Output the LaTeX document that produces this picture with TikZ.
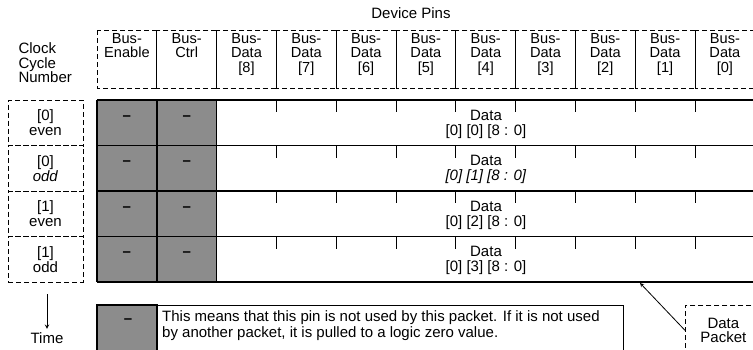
\documentclass[tikz,border=0pt]{standalone}
\usepackage{fontspec}
\setmainfont{Liberation Sans}

\begin{document}
\begin{tikzpicture}
  [x=1pt,y=-1pt,
   font=\fontsize{15}{14.6}\selectfont,
   pinbox/.style={draw,dash pattern=on 5pt off 3pt,line width=0.7pt},
   pinlbl/.style={anchor=north,align=center,inner sep=0.5pt,font=\fontsize{14.6}{14.2}\selectfont},
   cyclebox/.style={pinbox,minimum width=75pt,minimum height=45.5pt,align=center,inner sep=0pt,
     font=\fontsize{15}{15}\selectfont},
   unused/.style={fill=black!45},
   rowline/.style={line width=1.6pt},
   tick/.style={line width=1pt},
   packet/.style={align=center,inner sep=0pt,font=\fontsize{15}{15}\selectfont}]
  \useasboundingbox (0,0) rectangle (753,349);
  % headers
  \node at (411,13) (pinshdr) {Device Pins};
  \node at (15,63) (cyclehdr) [anchor=west,align=left] {Clock\\Cycle\\Number};
  \foreach \i in {0,...,10}
    \draw [pinbox] (97+\i*59.8,30) rectangle +(59.8,58);
  \node at (126.9,33) (pinen) [pinlbl] {Bus-\\Enable};
  \node at (186.7,33) (pinctl) [pinlbl] {Bus-\\Ctrl};
  \foreach \b in {8,...,0}
    \node at (246.5+59.8*8-59.8*\b,33) (pin\b) [pinlbl] {Bus-\\Data\\{[\b]}};
  % clock cycles
  \node at (45.5,122.75) (cyc0e) [cyclebox] {[0]\\even};
  \node at (45.5,168.25) (cyc0o) [cyclebox] {[0]\\\textit{odd}};
  \node at (45.5,213.75) (cyc1e) [cyclebox] {[1]\\even};
  \node at (45.5,259.25) (cyc1o) [cyclebox] {[1]\\odd};
  % packet grid
  \fill [unused] (97,100) rectangle (216.6,282);
  \foreach \y in {100,145.5,191,236.5,282}
    \draw [rowline] (97,\y) -- (756,\y);
  \foreach \x in {97,156.8,216.6}
    \draw [rowline] (\x,100) -- (\x,282);
  \foreach \y in {100,145.5,191,236.5}
    \foreach \k in {3,...,10}
      \draw [tick] (97+\k*59.8,\y) -- ++(0,12);
  \foreach \r/\y in {0/118,1/163.5,2/209,3/254.5}
    \foreach \c/\x in {en/126.9,ctl/186.7}
      \node at (\x,\y) (nc\r\c) [inner sep=0pt] {\textbf{--}};
  \node at (486,124) (pkt0) [packet] {Data\\{[0] [0] [8 : 0]}};
  \node at (486,169.5) (pkt1) [packet] {Data\\\textit{[0] [1] [8 : 0]}};
  \node at (486,215) (pkt2) [packet] {Data\\{[0] [2] [8 : 0]}};
  \node at (486,260.5) (pkt3) [packet] {Data\\{[0] [3] [8 : 0]}};
  % key
  \fill [unused] (97,305) rectangle (157,354);
  \draw [rowline] (97,354) -- (97,305) -- (157,305) -- (157,354);
  \draw [line width=1pt] (157,305) -- (623,305) -- (623,354);
  \node at (128,321) (keydash) [inner sep=0pt] {\textbf{--}};
  \node at (161,309) (note) [anchor=north west,align=left,inner sep=1pt,
    font=\fontsize{15}{16.5}\selectfont]
    {This means that this pin is not used by this packet. If it is not used\\
     by another packet, it is pulled to a logic zero value.};
  \node at (685,305) (datapkt) [pinbox,anchor=north west,align=center,
    minimum width=76pt,minimum height=50pt,inner sep=0pt] {Data\\Packet};
  \coordinate (gridhit) at (640,283);
  \draw [-stealth,line width=0.8pt] (datapkt.west) -- (gridhit);
  % time
  \node at (47,338) (time) {Time};
  \coordinate (tstart) at (47,294);
  \draw [-stealth,line width=1pt] (tstart) -- (time.north);
\end{tikzpicture}
\end{document}
